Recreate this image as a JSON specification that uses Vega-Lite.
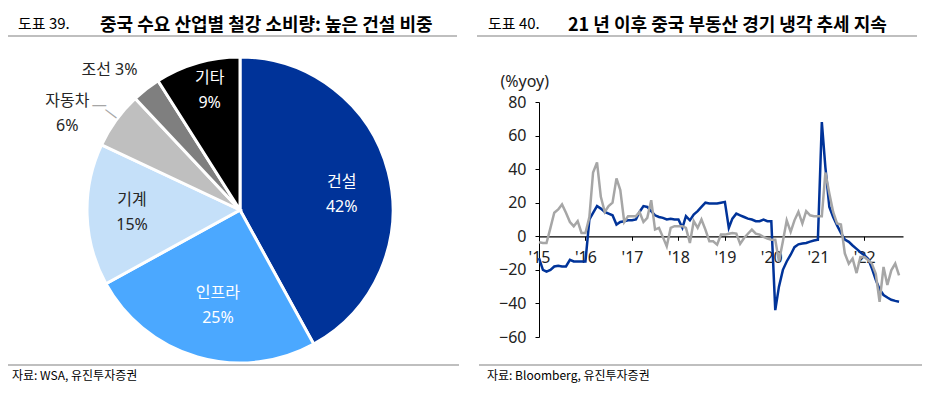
{
  "$schema": "https://vega.github.io/schema/vega-lite/v6.json",
  "background": "white",
  "padding": {"left": 8, "top": 17, "right": 0, "bottom": 0},
  "config": {"view": {"stroke": null}, "font": "Noto Sans, Noto Sans CJK KR"},
  "bounds": "flush",
  "spacing": 22,
  "vconcat": [
    {
      "bounds": "flush",
      "spacing": 0,
      "hconcat": [
        {"data": {"values": []}, "mark": "point", "width": 82, "height": 2,
         "view": {"fill": "#bfbfbf", "stroke": null},
         "title": {"text": "도표 39.", "anchor": "start", "dx": 10, "offset": -9, "baseline": "alphabetic", "fontSize": 15, "fontWeight": "normal", "font": "Noto Sans CJK KR", "color": "#000000"}},
        {"data": {"values": []}, "mark": "point", "width": 367, "height": 2,
         "view": {"fill": "#bfbfbf", "stroke": null},
         "title": {"text": "중국 수요 산업별 철강 소비량: 높은 건설 비중", "anchor": "start", "dx": 10, "offset": -14, "baseline": "alphabetic", "fontSize": 18, "fontWeight": "bold", "font": "Noto Sans CJK KR", "color": "#000000"}},
        {"data": {"values": []}, "mark": "point", "width": 20, "height": 2},
        {"data": {"values": []}, "mark": "point", "width": 81, "height": 2,
         "view": {"fill": "#bfbfbf", "stroke": null},
         "title": {"text": "도표 40.", "anchor": "start", "dx": 11, "offset": -9, "baseline": "alphabetic", "fontSize": 15, "fontWeight": "normal", "font": "Noto Sans CJK KR", "color": "#000000"}},
        {"data": {"values": []}, "mark": "point", "width": 359, "height": 2,
         "view": {"fill": "#bfbfbf", "stroke": null},
         "title": {"text": "21 년 이후 중국 부동산 경기 냉각 추세 지속", "anchor": "start", "dx": 10, "offset": -14, "baseline": "alphabetic", "fontSize": 18, "fontWeight": "bold", "font": "Noto Sans CJK KR", "color": "#000000"}}
      ]
    },
    {
      "bounds": "flush",
      "spacing": 307,
      "vconcat": [
        {
          "bounds": "flush",
          "spacing": 0,
          "hconcat": [
            {
              "width": 464,
              "height": 306,
              "data": {"values": [
                {"cat": "건설", "value": 42, "idx": 1, "label": ["건설", "42%"]},
                {"cat": "인프라", "value": 25, "idx": 2, "label": ["인프라", "25%"]},
                {"cat": "기계", "value": 15, "idx": 3, "label": ["기계", "15%"]},
                {"cat": "자동차", "value": 6, "idx": 4, "label": ["자동차", "6%"]},
                {"cat": "조선", "value": 3, "idx": 5, "label": "조선 3%"},
                {"cat": "기타", "value": 9, "idx": 6, "label": ["기타", "9%"]}
              ]},
              "encoding": {
                "theta": {"field": "value", "type": "quantitative", "stack": true},
                "order": {"field": "idx", "type": "quantitative"}
              },
              "layer": [
                {"mark": {"type": "arc", "outerRadius": 153, "stroke": "white", "strokeWidth": 3},
                 "encoding": {"color": {"field": "cat", "type": "nominal", "legend": null,
                   "scale": {"domain": ["건설", "인프라", "기계", "자동차", "조선", "기타"],
                             "range": ["#003399", "#4BA8FF", "#C5E0F9", "#BFBFBF", "#7F7F7F", "#000000"]}}}},
                {"mark": {"type": "text", "radius": 105, "dy": -1.5, "fill": "white", "fontSize": 16, "lineHeight": 25, "align": "center", "baseline": "middle"},
                 "encoding": {"text": {"condition": {"test": "datum.cat === '건설'", "field": "label"}, "value": ""}}},
                {"mark": {"type": "text", "radius": 97, "dx": 5, "dy": -10.5, "fill": "white", "fontSize": 16, "lineHeight": 25, "align": "center", "baseline": "middle"},
                 "encoding": {"text": {"condition": {"test": "datum.cat === '인프라'", "field": "label"}, "value": ""}}},
                {"mark": {"type": "text", "radius": 108, "dy": -13.5, "fill": "#262626", "fontSize": 16, "lineHeight": 25, "align": "center", "baseline": "middle"},
                 "encoding": {"text": {"condition": {"test": "datum.cat === '기계'", "field": "label"}, "value": ""}}},
                {"mark": {"type": "text", "radius": 123, "dx": 4, "dy": -13.5, "fill": "white", "fontSize": 16, "lineHeight": 25, "align": "center", "baseline": "middle"},
                 "encoding": {"text": {"condition": {"test": "datum.cat === '기타'", "field": "label"}, "value": ""}}},
                {"mark": {"type": "text", "radius": 190, "dx": -19, "dy": 2.5, "fill": "#262626", "fontSize": 16, "lineHeight": 25, "align": "center", "baseline": "middle"},
                 "encoding": {"text": {"condition": {"test": "datum.cat === '자동차'", "field": "label"}, "value": ""}}},
                {"mark": {"type": "text", "radius": 190, "dx": -14, "dy": 10, "fill": "#262626", "fontSize": 16, "lineHeight": 25, "align": "center", "baseline": "middle"},
                 "encoding": {"text": {"condition": {"test": "datum.cat === '조선'", "field": "label"}, "value": ""}}},
                {"mark": {"type": "text", "radius": 190, "dx": 13, "dy": 7, "fill": "#a6a6a6", "fontSize": 15, "align": "center", "baseline": "middle"},
                 "encoding": {"text": {"condition": {"test": "datum.cat === '자동차'", "value": "—"}, "value": ""}}},
                {"mark": {"type": "text", "radius": 163, "dx": 2, "dy": -3, "angle": 37, "fill": "#a6a6a6", "fontSize": 15, "align": "center", "baseline": "middle"},
                 "encoding": {"text": {"condition": {"test": "datum.cat === '자동차'", "value": "—"}, "value": ""}}}
              ]
            },
            {"data": {"values": []}, "mark": "point", "width": 67, "height": 1},
            {
              "width": 364,
              "height": 306,
              "data": {"values": [
                {"date": "2015-01-01", "b": -13, "g": -3.5},
                {"date": "2015-02-01", "b": -20, "g": -4},
                {"date": "2015-03-01", "b": -21, "g": -4},
                {"date": "2015-04-01", "b": -20, "g": 5},
                {"date": "2015-05-01", "b": -18, "g": 14},
                {"date": "2015-06-01", "b": -17.5, "g": 16},
                {"date": "2015-07-01", "b": -18, "g": 19},
                {"date": "2015-08-01", "b": -18, "g": 14},
                {"date": "2015-09-01", "b": -14, "g": 8.5},
                {"date": "2015-10-01", "b": -15, "g": 6},
                {"date": "2015-11-01", "b": -15, "g": 9},
                {"date": "2015-12-01", "b": -15, "g": 2},
                {"date": "2016-01-01", "b": -15, "g": 2},
                {"date": "2016-02-01", "b": 10, "g": 11.5},
                {"date": "2016-03-01", "b": 14, "g": 38},
                {"date": "2016-04-01", "b": 18, "g": 44},
                {"date": "2016-05-01", "b": 16.5, "g": 23.5},
                {"date": "2016-06-01", "b": 14.5, "g": 14.5},
                {"date": "2016-07-01", "b": 13.5, "g": 18},
                {"date": "2016-08-01", "b": 12.5, "g": 20},
                {"date": "2016-09-01", "b": 7, "g": 34.5},
                {"date": "2016-10-01", "b": 8.5, "g": 27.5},
                {"date": "2016-11-01", "b": 9, "g": 8.5},
                {"date": "2016-12-01", "b": 9.5, "g": 12},
                {"date": "2017-01-01", "b": 9.5, "g": 12},
                {"date": "2017-02-01", "b": 10, "g": 12},
                {"date": "2017-03-01", "b": 14.5, "g": 14.5},
                {"date": "2017-04-01", "b": 18, "g": 8.5},
                {"date": "2017-05-01", "b": 17.5, "g": 11},
                {"date": "2017-06-01", "b": 15, "g": 21.5},
                {"date": "2017-07-01", "b": 12.5, "g": 4},
                {"date": "2017-08-01", "b": 11.5, "g": 5},
                {"date": "2017-09-01", "b": 11, "g": -0.5},
                {"date": "2017-10-01", "b": 10, "g": -6},
                {"date": "2017-11-01", "b": 10.5, "g": 5},
                {"date": "2017-12-01", "b": 10, "g": 6},
                {"date": "2018-01-01", "b": 10, "g": 6},
                {"date": "2018-02-01", "b": 5, "g": 6},
                {"date": "2018-03-01", "b": 12, "g": 5},
                {"date": "2018-04-01", "b": 9.5, "g": -4},
                {"date": "2018-05-01", "b": 13, "g": 9},
                {"date": "2018-06-01", "b": 15, "g": 5},
                {"date": "2018-07-01", "b": 17.5, "g": 10},
                {"date": "2018-08-01", "b": 20, "g": 4},
                {"date": "2018-09-01", "b": 19.5, "g": -3},
                {"date": "2018-10-01", "b": 19.5, "g": -3},
                {"date": "2018-11-01", "b": 19.5, "g": -5},
                {"date": "2018-12-01", "b": 20, "g": 1},
                {"date": "2019-01-01", "b": 20.5, "g": 1},
                {"date": "2019-02-01", "b": 5, "g": 1.5},
                {"date": "2019-03-01", "b": 10.5, "g": 2},
                {"date": "2019-04-01", "b": 13.5, "g": 1.6},
                {"date": "2019-05-01", "b": 12.5, "g": -4.5},
                {"date": "2019-06-01", "b": 11.5, "g": -1},
                {"date": "2019-07-01", "b": 10.5, "g": 1.5},
                {"date": "2019-08-01", "b": 10, "g": 4},
                {"date": "2019-09-01", "b": 9, "g": 1.6},
                {"date": "2019-10-01", "b": 9, "g": 1},
                {"date": "2019-11-01", "b": 10, "g": -0.4},
                {"date": "2019-12-01", "b": 9, "g": -1.4},
                {"date": "2020-01-01", "b": 9, "g": -2},
                {"date": "2020-02-01", "b": -44, "g": -2},
                {"date": "2020-03-01", "b": -30, "g": -15},
                {"date": "2020-04-01", "b": -20, "g": -3},
                {"date": "2020-05-01", "b": -15, "g": 9.5},
                {"date": "2020-06-01", "b": -11, "g": 2.6},
                {"date": "2020-07-01", "b": -6.5, "g": 9.5},
                {"date": "2020-08-01", "b": -4.8, "g": 14.5},
                {"date": "2020-09-01", "b": -4.3, "g": 7.6},
                {"date": "2020-10-01", "b": -4, "g": 15},
                {"date": "2020-11-01", "b": -3.2, "g": 12.5},
                {"date": "2020-12-01", "b": -2.5, "g": 12},
                {"date": "2021-01-01", "b": -2, "g": 12},
                {"date": "2021-02-01", "b": 68, "g": 12},
                {"date": "2021-03-01", "b": 41, "g": 38},
                {"date": "2021-04-01", "b": 17.5, "g": 25.5},
                {"date": "2021-05-01", "b": 11.5, "g": 14.5},
                {"date": "2021-06-01", "b": 6.5, "g": 7.6},
                {"date": "2021-07-01", "b": 2, "g": 7},
                {"date": "2021-08-01", "b": -2, "g": -10.3},
                {"date": "2021-09-01", "b": -3.3, "g": -16.3},
                {"date": "2021-10-01", "b": -5.5, "g": -13.3},
                {"date": "2021-11-01", "b": -7.5, "g": -21.9},
                {"date": "2021-12-01", "b": -9.5, "g": -12.3},
                {"date": "2022-01-01", "b": -11.3, "g": -12.3},
                {"date": "2022-02-01", "b": -13.5, "g": -14.3},
                {"date": "2022-03-01", "b": -19, "g": -16.3},
                {"date": "2022-04-01", "b": -26, "g": -22.3},
                {"date": "2022-05-01", "b": -31.5, "g": -39},
                {"date": "2022-06-01", "b": -35, "g": -18.3},
                {"date": "2022-07-01", "b": -36.5, "g": -29},
                {"date": "2022-08-01", "b": -37.8, "g": -20.3},
                {"date": "2022-09-01", "b": -38.5, "g": -16.3},
                {"date": "2022-10-01", "b": -39, "g": -23.3}
              ]},
              "encoding": {
                "x": {"field": "date", "type": "temporal",
                  "scale": {"type": "utc", "nice": false,
                    "domain": [{"year": 2015, "month": 1, "date": 1, "utc": true}, {"year": 2022, "month": 11, "date": 1, "utc": true}]},
                  "axis": {
                    "values": [
                      {"year": 2015, "month": 1, "date": 1, "utc": true},
                      {"year": 2016, "month": 1, "date": 1, "utc": true},
                      {"year": 2017, "month": 1, "date": 1, "utc": true},
                      {"year": 2018, "month": 1, "date": 1, "utc": true},
                      {"year": 2019, "month": 1, "date": 1, "utc": true},
                      {"year": 2020, "month": 1, "date": 1, "utc": true},
                      {"year": 2021, "month": 1, "date": 1, "utc": true},
                      {"year": 2022, "month": 1, "date": 1, "utc": true}
                    ],
                    "format": "'%y", "title": null, "offset": -126.71, "grid": false,
                    "domainColor": "#000000", "domainWidth": 1.2, "tickColor": "#000000", "tickSize": 4,
                    "labelFont": "Noto Sans", "labelFontSize": 16, "labelColor": "#222222", "labelPadding": 9,
                    "labelFlush": false, "labelOverlap": false}}
              },
              "layer": [
                {"mark": {"type": "line", "color": "#003399", "strokeWidth": 2.5},
                 "encoding": {"y": {"field": "b", "type": "quantitative", "title": "(%yoy)",
                   "scale": {"domain": [-60, 80], "nice": false, "range": [280, 45]},
                   "axis": {"values": [-60, -40, -20, 0, 20, 40, 60, 80], "grid": false,
                     "title": "(%yoy)", "titleAngle": 0, "titleAlign": "left", "titleBaseline": "middle", "titleX": -39, "titleY": 24,
                     "titleFont": "Noto Sans", "titleFontSize": 16, "titleFontWeight": "normal", "titleColor": "#222222",
                     "labelFont": "Noto Sans", "labelFontSize": 16, "labelColor": "#222222", "labelPadding": 9,
                     "domainColor": "#000000", "tickColor": "#000000", "tickSize": 4}}}},
                {"mark": {"type": "line", "color": "#A6A6A6", "strokeWidth": 2.5},
                 "encoding": {"y": {"field": "g", "type": "quantitative", "title": "(%yoy)"}}}
              ]
            }
          ]
        },
        {
          "bounds": "flush",
          "spacing": 0,
          "hconcat": [
            {"data": {"values": []}, "mark": "point", "width": 451, "height": 2,
             "view": {"fill": "#bfbfbf", "stroke": null},
             "title": {"text": "자료: WSA, 유진투자증권", "orient": "bottom", "anchor": "start", "dx": 4, "offset": 5, "baseline": "top", "fontSize": 12, "fontWeight": "normal", "font": "Noto Sans CJK KR", "color": "#000000"}},
            {"data": {"values": []}, "mark": "point", "width": 20, "height": 2},
            {"data": {"values": []}, "mark": "point", "width": 443, "height": 2,
             "view": {"fill": "#bfbfbf", "stroke": null},
             "title": {"text": "자료: Bloomberg, 유진투자증권", "orient": "bottom", "anchor": "start", "dx": 8, "offset": 5, "baseline": "top", "fontSize": 12, "fontWeight": "normal", "font": "Noto Sans CJK KR", "color": "#000000"}}
          ]
        }
      ]
    }
  ]
}
